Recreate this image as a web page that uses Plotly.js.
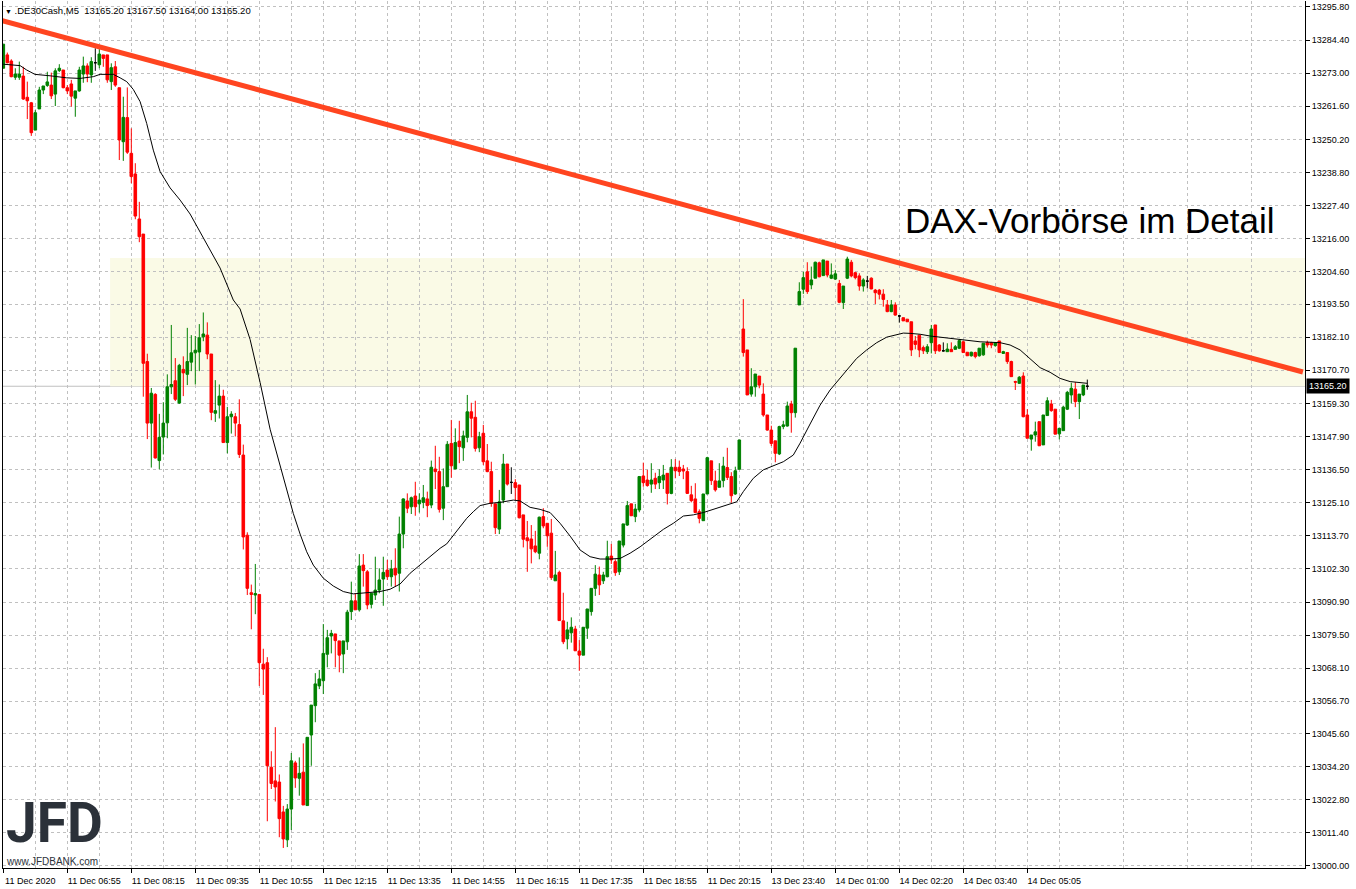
<!DOCTYPE html>
<html><head><meta charset="utf-8">
<script src="https://cdn.plot.ly/plotly-3.0.1.min.js"></script>
<style>html,body{margin:0;padding:0;background:#fff;overflow:hidden}#chart{width:1356px;height:889px}</style>
</head><body><div id="chart"></div>
<script>
// ---- Data (DE30Cash, M5) ----
const openP = [13274.7,13279.3,13277.2,13271.6,13271.6,13272.0,13264.7,13262.8,13253.4,13260.7,13267.2,13268.8,13268.9,13265.8,13273.9,13274.1,13268.0,13269.3,13264.4,13266.9,
13272.7,13275.5,13272.4,13276.6,13275.9,13279.3,13279.3,13270.1,13275.2,13268.0,13249.4,13257.7,13245.4,13238.3,13222.8,13217.6,13173.7,13152.5,13162.4,13139.6,
13147.7,13152.6,13165.0,13167.1,13159.4,13171.0,13169.3,13173.5,13176.7,13177.0,13182.2,13182.8,13176.3,13155.9,13158.7,13161.8,13145.8,13154.7,13154.7,13152.0,
13141.5,13113.9,13094.1,13093.3,13093.5,13069.5,13070.0,13034.0,13029.3,13028.9,13018.6,13009.0,13019.6,13035.5,13030.2,13032.3,13020.8,13045.1,13055.2,13062.0,
13063.8,13072.9,13079.2,13079.9,13077.5,13073.0,13077.2,13087.6,13091.3,13088.2,13103.6,13101.3,13090.1,13093.3,13095.0,13098.8,13101.9,13099.6,13102.5,13100.8,
13114.3,13125.7,13123.7,13127.4,13124.7,13125.2,13126.4,13124.3,13136.7,13135.8,13123.2,13130.6,13145.5,13136.7,13146.3,13144.0,13147.6,13156.4,13154.5,13144.0,
13149.0,13139.5,13135.8,13124.7,13116.0,13126.0,13138.4,13132.1,13132.0,13131.2,13120.9,13113.0,13112.6,13110.2,13107.7,13120.3,13118.0,13114.6,13098.2,13101.1,
13084.4,13078.2,13080.3,13081.6,13074.0,13072.6,13081.9,13087.6,13095.6,13100.2,13098.2,13099.6,13106.7,13104.8,13101.3,13110.5,13117.4,13124.7,13120.3,13122.6,
13134.3,13132.9,13131.5,13133.5,13132.0,13132.9,13135.2,13128.3,13137.3,13137.3,13136.7,13135.8,13127.8,13126.4,13122.0,13118.9,13128.1,13139.5,13132.6,13130.4,
13132.7,13137.2,13134.1,13128.1,13136.6,13184.9,13177.7,13162.5,13165.0,13168.7,13162.5,13155.3,13150.1,13146.4,13141.9,13151.3,13151.5,13159.1,13156.1,13193.2,
13198.6,13204.6,13200.1,13202.4,13207.7,13203.3,13208.3,13202.4,13202.1,13200.6,13194.0,13202.4,13207.9,13204.3,13203.2,13199.7,13201.4,13202.4,13198.3,13198.3,
13196.9,13193.2,13190.9,13193.2,13189.4,13188.8,13188.3,13187.4,13180.8,13182.8,13178.5,13177.1,13180.2,13186.3,13179.4,13177.4,13177.1,13177.9,13177.9,13178.3,
13180.5,13176.9,13175.7,13176.8,13175.7,13176.0,13180.2,13180.2,13179.2,13180.8,13176.5,13176.8,13173.7,13166.8,13166.2,13168.7,13155.3,13147.0,13148.4,13153.0,
13145.0,13155.1,13159.1,13157.3,13148.8,13149.9,13157.3,13162.2,13164.2,13159.9,13162.2,13165.2];
const highP = [13283.0,13280.1,13277.8,13274.7,13277.0,13275.2,13270.1,13263.1,13260.3,13268.3,13268.6,13273.5,13273.2,13274.7,13276.1,13274.1,13268.9,13270.7,13266.9,13275.2,
13278.7,13276.4,13278.5,13281.6,13281.3,13279.3,13279.3,13276.4,13277.2,13268.0,13264.9,13268.1,13254.0,13242.0,13228.7,13217.6,13176.4,13164.6,13162.8,13155.7,
13159.7,13169.3,13186.3,13174.9,13172.9,13175.5,13185.3,13182.8,13182.5,13186.6,13190.6,13187.2,13176.3,13167.3,13165.8,13164.0,13158.1,13156.6,13156.0,13160.7,
13145.1,13114.9,13096.9,13104.0,13093.5,13074.8,13071.9,13039.5,13047.8,13031.5,13020.7,13021.3,13038.9,13036.2,13037.4,13042.2,13044.3,13055.4,13066.4,13067.5,
13083.3,13081.3,13081.3,13079.9,13077.5,13077.5,13088.2,13097.9,13093.9,13107.4,13107.4,13101.9,13093.9,13106.5,13102.5,13106.5,13105.4,13105.4,13109.4,13120.3,
13126.6,13128.3,13127.2,13132.3,13128.3,13131.2,13128.9,13139.6,13144.7,13140.9,13136.9,13146.3,13153.6,13150.7,13153.3,13149.9,13162.2,13159.5,13160.2,13149.5,
13151.9,13145.3,13139.2,13124.7,13129.5,13141.9,13138.4,13137.3,13133.2,13131.2,13120.9,13118.8,13117.4,13115.4,13120.3,13123.2,13118.0,13119.5,13108.5,13101.7,
13094.1,13084.1,13085.6,13082.7,13077.8,13082.2,13088.5,13095.6,13103.6,13103.1,13101.3,13112.0,13110.9,13105.6,13111.9,13117.8,13125.7,13124.7,13124.7,13134.3,
13138.9,13136.4,13138.7,13135.4,13136.6,13138.1,13135.2,13140.1,13140.1,13139.6,13138.1,13137.3,13130.9,13131.8,13122.8,13128.1,13140.9,13139.5,13136.1,13138.7,
13140.9,13144.0,13135.6,13137.5,13146.7,13195.2,13177.7,13171.4,13169.4,13168.7,13166.2,13155.3,13151.6,13146.4,13151.6,13153.3,13159.9,13160.2,13178.3,13201.0,
13204.6,13207.9,13206.4,13208.1,13208.1,13208.7,13208.3,13207.5,13205.2,13201.8,13199.7,13209.8,13208.7,13204.6,13204.1,13202.4,13203.2,13202.7,13198.7,13198.7,
13198.6,13194.9,13194.9,13194.1,13189.7,13188.8,13188.3,13187.4,13182.5,13182.8,13179.2,13179.7,13186.3,13186.3,13179.7,13180.3,13180.0,13180.3,13179.4,13181.5,
13180.9,13176.9,13177.1,13177.1,13178.3,13180.0,13180.9,13180.5,13180.2,13180.8,13177.4,13176.8,13174.0,13167.1,13168.7,13170.0,13157.3,13148.4,13153.0,13153.0,
13155.3,13161.4,13160.5,13157.3,13150.7,13158.5,13163.6,13166.4,13166.6,13162.5,13165.6,13167.5];
const lowP = [13274.7,13276.4,13271.6,13270.7,13270.7,13263.8,13257.2,13251.4,13253.4,13260.7,13265.8,13268.3,13264.1,13261.7,13273.4,13267.8,13265.8,13261.5,13258.0,13266.6,
13269.7,13269.9,13269.7,13273.8,13274.7,13275.2,13269.7,13267.2,13268.3,13243.1,13242.8,13245.2,13235.1,13222.7,13214.8,13161.6,13147.0,13137.2,13140.3,13136.6,
13141.7,13147.3,13162.5,13160.1,13159.1,13161.8,13165.6,13170.4,13165.8,13170.4,13180.7,13174.5,13153.5,13152.9,13154.1,13145.8,13142.1,13148.9,13147.9,13140.5,
13109.0,13093.3,13081.5,13086.7,13062.0,13058.9,13015.4,13026.5,13022.2,13009.9,13006.2,13006.5,13012.4,13026.9,13024.2,13021.0,13020.8,13034.5,13049.5,13060.9,
13059.2,13068.4,13073.2,13068.4,13066.7,13066.4,13074.4,13084.7,13088.2,13087.6,13096.2,13088.4,13088.7,13091.6,13093.9,13089.6,13098.5,13096.2,13096.2,13094.5,
13109.4,13121.5,13121.2,13120.6,13121.7,13123.2,13120.1,13123.2,13129.8,13121.7,13119.1,13130.6,13133.7,13136.7,13138.7,13139.5,13145.9,13147.6,13142.7,13142.5,
13138.1,13135.6,13123.7,13114.3,13114.3,13124.9,13131.0,13128.1,13126.0,13119.7,13109.7,13101.3,13104.2,13107.7,13105.6,13116.3,13109.9,13098.5,13098.2,13084.5,
13076.4,13074.6,13076.9,13074.1,13067.2,13072.6,13078.2,13086.2,13093.0,13093.3,13097.1,13099.4,13104.0,13099.9,13100.2,13109.7,13117.1,13120.5,13118.4,13121.8,
13130.6,13130.6,13128.5,13129.8,13129.8,13129.8,13124.5,13128.0,13133.5,13134.3,13133.2,13128.1,13125.2,13121.5,13118.0,13118.9,13128.1,13131.2,13128.9,13130.4,
13130.4,13132.9,13125.1,13127.8,13136.6,13175.4,13162.2,13161.6,13161.6,13164.5,13154.7,13149.9,13144.6,13139.0,13141.5,13150.4,13151.3,13149.2,13154.4,13193.2,
13197.0,13197.0,13198.6,13202.4,13202.7,13203.3,13202.7,13202.1,13201.8,13193.8,13191.8,13202.1,13202.7,13202.0,13198.1,13197.8,13198.9,13198.6,13193.5,13195.1,
13192.6,13190.7,13190.7,13189.5,13187.1,13187.7,13187.4,13175.6,13177.9,13175.2,13176.3,13176.3,13176.5,13176.3,13177.1,13177.1,13177.1,13177.1,13177.9,13178.0,
13176.8,13175.7,13175.4,13174.8,13175.4,13175.7,13178.5,13178.3,13178.8,13176.8,13176.3,13172.9,13168.5,13163.9,13166.0,13154.5,13147.3,13143.0,13146.1,13144.6,
13145.0,13155.1,13156.4,13148.7,13146.9,13149.9,13157.0,13159.3,13158.0,13153.9,13161.8,13164.0];
const closeP = [13283.0,13276.6,13271.8,13272.7,13272.7,13264.1,13263.5,13252.5,13259.4,13267.2,13268.6,13270.0,13265.2,13273.8,13274.7,13268.0,13266.9,13265.1,13266.9,13274.1,
13275.5,13272.7,13277.0,13276.6,13279.6,13278.1,13270.7,13274.9,13268.9,13250.0,13257.8,13245.8,13237.4,13223.8,13216.7,13173.1,13152.5,13162.8,13140.5,13147.6,
13152.5,13165.0,13165.8,13160.7,13172.4,13169.8,13173.7,13176.7,13177.6,13181.9,13183.2,13176.3,13156.2,13156.8,13161.8,13145.8,13154.7,13155.6,13152.5,13141.7,
13113.3,13095.6,13093.5,13093.8,13070.0,13067.8,13034.5,13028.4,13027.2,13016.3,13009.3,13019.6,13036.2,13030.3,13031.9,13021.0,13044.3,13055.4,13062.7,13064.4,
13073.2,13078.6,13080.1,13077.6,13072.6,13077.5,13087.4,13091.3,13088.2,13103.3,13101.7,13089.9,13093.9,13095.0,13098.5,13101.1,13099.6,13102.3,13100.2,13114.3,
13126.4,13123.2,13126.8,13123.7,13126.0,13126.8,13124.1,13137.3,13135.8,13122.8,13130.6,13145.2,13137.8,13145.8,13144.4,13148.1,13156.4,13154.2,13143.8,13147.8,
13139.2,13135.8,13124.9,13116.5,13125.4,13138.4,13131.5,13132.1,13130.3,13119.9,13112.5,13112.0,13109.2,13108.2,13120.1,13117.1,13113.7,13099.3,13100.2,13084.5,
13077.2,13081.3,13082.2,13074.1,13072.6,13082.2,13088.5,13095.6,13100.5,13096.8,13100.2,13106.5,13105.4,13101.0,13111.9,13117.8,13124.1,13120.6,13122.9,13134.1,
13132.0,13131.0,13132.9,13131.5,13134.1,13134.6,13128.3,13137.3,13136.1,13135.8,13136.0,13128.3,13125.8,13121.7,13119.7,13128.1,13140.6,13132.7,13129.5,13132.6,
13137.7,13133.8,13127.5,13136.1,13146.7,13176.8,13162.2,13165.0,13169.4,13165.6,13155.3,13150.1,13145.5,13142.1,13151.3,13151.9,13158.4,13156.1,13178.3,13197.8,
13202.6,13197.8,13201.8,13207.9,13202.9,13208.7,13203.5,13203.5,13203.9,13194.1,13199.7,13209.0,13203.2,13202.6,13199.7,13201.8,13201.4,13198.7,13197.4,13196.9,
13195.1,13190.9,13193.2,13189.7,13189.4,13187.7,13187.4,13177.7,13179.6,13177.7,13177.4,13178.8,13184.9,13177.4,13177.4,13177.4,13178.0,13177.1,13178.8,13180.9,
13176.8,13175.7,13176.9,13175.4,13178.3,13180.0,13179.4,13179.4,13180.2,13176.8,13177.1,13173.7,13168.5,13166.6,13168.3,13154.7,13147.3,13148.4,13149.5,13144.7,
13155.3,13160.2,13156.8,13148.7,13150.7,13158.0,13163.1,13164.5,13159.9,13162.5,13165.6,13165.2];

// 20-bar moving average (bar position, value)
const maBar = [0,4.2,5.85,7.9,11.7,15.85,19.2,22.5,24.2,27.5,29.2,30.85,32.5,34.2,35.85,37.5,39.2,41.7,44.2,46.7,49.2,51.7,54.2,57.5,59.2,61.7,64.2,66.7,69.2,70.85,
72.5,74.2,75.85,77.5,80,82.5,85,87.5,90.85,94.2,96.7,99.2,101.7,104.2,106.7,109.2,110.85,113.35,115.85,117.5,119.2,121.7,124.2,127.5,129.2,131.7,134.2,136.7,139.2,141.7,
144.2,146.7,149.2,151.7,154.2,156.7,159.2,165,167.5,170,172.5,175,178.35,181.7,183.35,185,187.5,190,192.5,195,197.5,199.2,201.7,204.2,206.7,210.85,213.35,215.85,218.35,220.85,
223.35,225,226.7,229.2,231.7,234.2,239.2,244.2,249.2,251.7,254.2,256.7,259.2,261.7,264.2,266.7,269.2,271];
const maVal = [13276.1,13275.6,13274.1,13272.6,13272.1,13271.4,13271.2,13271.8,13272.6,13272.6,13271.4,13270.1,13267.4,13263.2,13255.7,13246.5,13239.1,13233.5,13229.3,13224.5,
13218.3,13212.1,13205.9,13194.9,13191.8,13181.3,13166.5,13150.4,13137.7,13129.5,13121.4,13114.3,13108.2,13103.6,13099.1,13096.4,13094.5,13093.7,13094.2,13094.5,
13095.3,13097.1,13100.8,13103.6,13106.5,13109.4,13110.9,13115.1,13119.7,13122.0,13124.1,13124.9,13125.2,13126.0,13125.7,13123.5,13122.8,13121.7,13118.0,13113.6,
13108.8,13106.5,13105.7,13105.7,13105.9,13107.7,13109.9,13115.9,13118.0,13120.5,13120.9,13121.7,13123.2,13124.7,13125.4,13128.9,13133.5,13136.4,13137.7,13139.2,
13141.5,13145.6,13152.2,13158.7,13163.9,13170.8,13174.8,13177.7,13180.2,13182.1,13183.1,13183.5,13183.4,13183.1,13182.5,13182.1,13181.1,13180.5,13180.2,13179.4,
13177.7,13174.8,13171.6,13170.0,13167.9,13166.8,13166.4,13166.2];

const xTickBars = [0,16,32,48,64,80,96,112,128,144,160,176,192,208,224,240,256];
const xTickLabels = ["11 Dec 2020","11 Dec 06:55","11 Dec 08:15","11 Dec 09:35","11 Dec 10:55","11 Dec 12:15","11 Dec 13:35","11 Dec 14:55",
"11 Dec 16:15","11 Dec 17:35","11 Dec 18:55","11 Dec 20:15","13 Dec 23:40","14 Dec 01:00","14 Dec 02:20","14 Dec 03:40","14 Dec 05:05"];
const yTickVals = [13295.8,13284.4,13273.0,13261.6,13250.2,13238.8,13227.4,13216.0,13204.6,13193.5,13182.1,13170.7,13159.3,13147.9,
13136.5,13125.1,13113.7,13102.3,13090.9,13079.5,13068.1,13056.7,13045.6,13034.2,13022.8,13011.4,13000.0];
const yTickLabels = yTickVals.map(v => v.toFixed(2));

const lastPrice = 13165.20;
const zoneTop = 13209.4;          // shaded zone upper edge
const zoneStartBar = 26.7;
const trendBars = [-0.825, 324.9]; // trend line end points
const trendPrices = [13291.3, 13170.1];
const headerText = ".DE30Cash,M5\u00a0\u00a013165.20 13167.50 13164.00 13165.20";
const titleText = "DAX-Vorbörse im Detail";

// ---- Build ----
const bars = openP.map((_, i) => i);
const isDoji = i => openP[i] === closeP[i];
const normIdx = bars.filter(i => !isDoji(i));
const dojiIdx = bars.filter(i => isDoji(i));
const pick = (arr, idx) => idx.map(i => arr[i]);

const GREEN = '#008000', RED = '#ff0000';
const candles = {
  type: 'candlestick', x: normIdx, open: pick(openP, normIdx), high: pick(highP, normIdx),
  low: pick(lowP, normIdx), close: pick(closeP, normIdx),
  increasing: {line: {color: GREEN, width: 1}, fillcolor: GREEN},
  decreasing: {line: {color: RED, width: 1}, fillcolor: RED},
  whiskerwidth: 0, hoverinfo: 'skip', showlegend: false
};
const dojis = {
  type: 'candlestick', x: dojiIdx, open: pick(openP, dojiIdx), high: pick(highP, dojiIdx),
  low: pick(lowP, dojiIdx), close: pick(closeP, dojiIdx),
  increasing: {line: {color: '#000', width: 1}, fillcolor: '#000'},
  decreasing: {line: {color: '#000', width: 1}, fillcolor: '#000'},
  whiskerwidth: 0, hoverinfo: 'skip', showlegend: false
};
const ma = {type: 'scatter', mode: 'lines', x: maBar, y: maVal, line: {color: '#000', width: 1}, hoverinfo: 'skip', showlegend: false};

const W = 1356, H = 889, ML = 3, MR = 51, MT = 1, MB = 21;
const pw = W - ML - MR, ph = H - MT - MB;
const px2x = px => (px - ML) / pw;
const px2y = py => 1 - (py - MT) / ph;

const minorBars = [];
for (let b = 8; b < 330; b += 16) minorBars.push(b);

const gridStyle = {showgrid: true, gridcolor: '#c0c0c0', gridwidth: 1, griddash: '3px,3px'};
const FONT = 'Liberation Sans, Arial, sans-serif';

const layout = {
  width: W, height: H,
  margin: {l: ML, r: MR, t: MT, b: MB, pad: 0},
  paper_bgcolor: '#ffffff', plot_bgcolor: '#ffffff',
  showlegend: false, hovermode: false,
  boxgap: 0.35, boxgroupgap: 0,
  font: {family: FONT, size: 9, color: '#000'},
  xaxis: Object.assign({
    range: [-0.075, 325.425], rangeslider: {visible: false}, fixedrange: true,
    tickmode: 'array', tickvals: xTickBars, ticktext: xTickLabels, tickangle: 0,
    ticks: 'outside', ticklen: 4, tickcolor: '#000', tickwidth: 1,
    ticklabelshift: 27, tickfont: {family: FONT, size: 9, color: '#000'},
    minor: Object.assign({tickmode: 'array', tickvals: minorBars, ticks: ''}, gridStyle),
    showline: true, linecolor: '#000', linewidth: 1, zeroline: false
  }, gridStyle),
  yaxis: Object.assign({
    side: 'right', range: [12999.3, 13297.86], fixedrange: true,
    tickmode: 'array', tickvals: yTickVals, ticktext: yTickLabels,
    ticks: 'outside', ticklen: 4, tickcolor: '#000', tickwidth: 1,
    tickfont: {family: FONT, size: 9, color: '#000'},
    showline: true, mirror: true, linecolor: '#000', linewidth: 1, zeroline: false
  }, gridStyle),
  shapes: [
    {type: 'rect', xref: 'x', yref: 'y', x0: zoneStartBar, x1: 325.425, y0: lastPrice, y1: zoneTop,
     fillcolor: '#fafae6', line: {width: 0}, layer: 'below'},
    {type: 'line', xref: 'paper', yref: 'y', x0: 0, x1: 1, y0: lastPrice, y1: lastPrice,
     line: {color: '#c0c0c0', width: 1}, layer: 'between'},
    {type: 'line', xref: 'x', yref: 'y', x0: trendBars[0], x1: trendBars[1], y0: trendPrices[0], y1: trendPrices[1],
     line: {color: '#ff4520', width: 5}, layer: 'above'}
  ],
  annotations: [
    {xref: 'paper', yref: 'paper', x: 0, y: px2y(10), xanchor: 'left', yanchor: 'middle', showarrow: false,
     text: '<span style="font-size:7px">\u25BC</span> ' + headerText, font: {family: FONT, size: 9.5, color: '#000'}},
    {xref: 'paper', yref: 'paper', x: px2x(903), y: px2y(220), xanchor: 'left', yanchor: 'middle', showarrow: false,
     text: titleText, font: {family: FONT, size: 35, color: '#000'}},
    {xref: 'paper', yref: 'y', x: 1, y: lastPrice, xanchor: 'left', yanchor: 'middle', xshift: 1, showarrow: false,
     text: lastPrice.toFixed(2), bgcolor: '#000', borderpad: 2, font: {family: FONT, size: 9, color: '#fff'}},
    {xref: 'paper', yref: 'paper', x: px2x(5), y: px2y(823), xanchor: 'left', yanchor: 'middle', showarrow: false,
     borderpad: 0, text: 'JFD', font: {family: 'Roboto, sans-serif', size: 55, weight: 700, color: '#2b3139'}},
    {xref: 'paper', yref: 'paper', x: px2x(5), y: px2y(861), xanchor: 'left', yanchor: 'middle', showarrow: false,
     borderpad: 0, text: 'www.JFDBANK.com', font: {family: FONT, size: 10, color: '#2b3139'}}
  ]
};

Plotly.newPlot('chart', [candles, dojis, ma], layout, {staticPlot: true, displayModeBar: false});
</script>
</body></html>
